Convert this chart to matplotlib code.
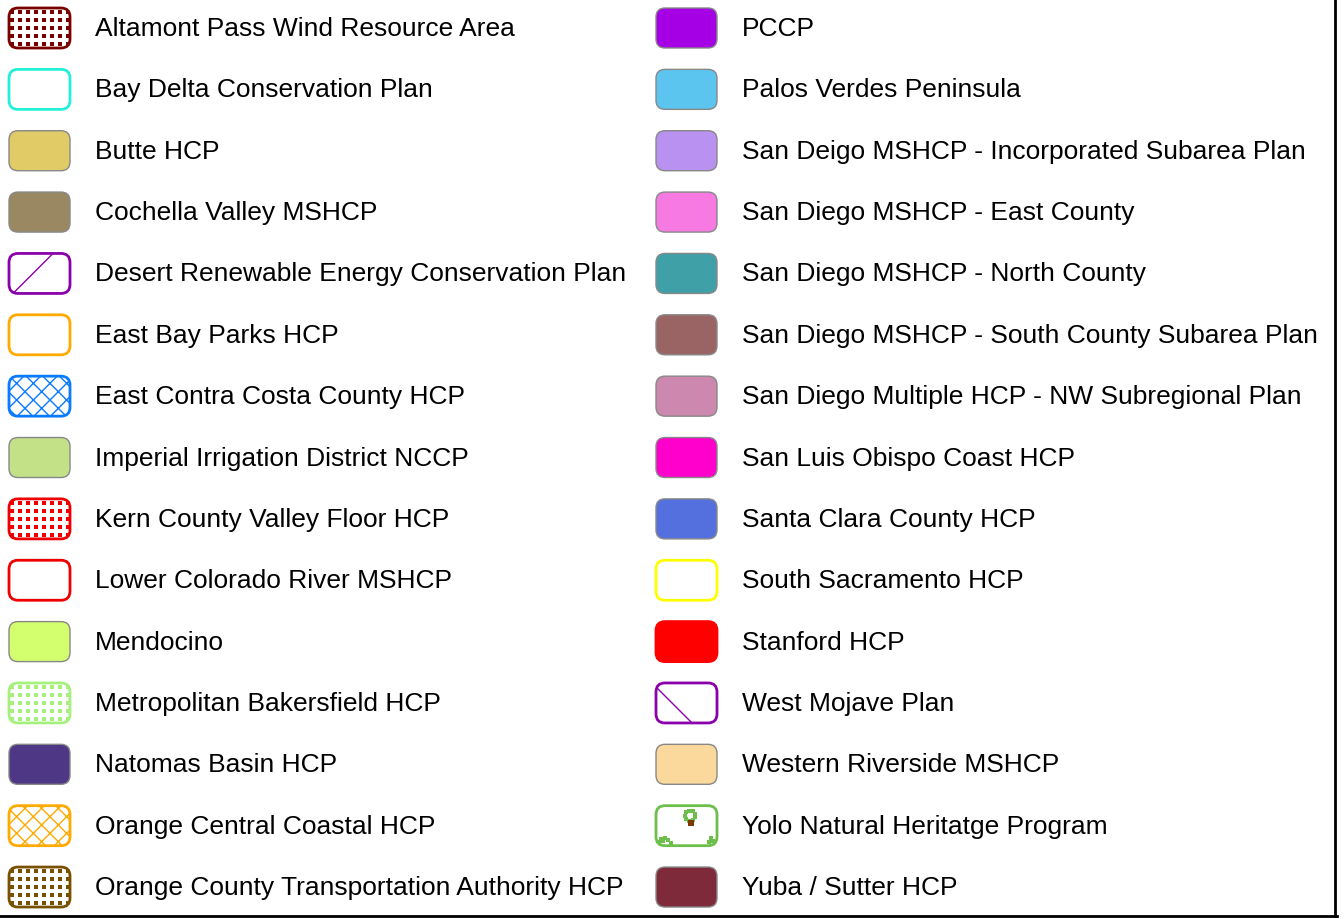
import numpy as np
import matplotlib.pyplot as plt
from matplotlib.patches import FancyBboxPatch
from matplotlib.lines import Line2D

plt.rcParams['font.family'] = ['Liberation Sans', 'DejaVu Sans']
plt.rcParams['hatch.linewidth'] = 1.0

# legend entries, left column then right column
left_labels = [
    'Altamont Pass Wind Resource Area', 'Bay Delta Conservation Plan', 'Butte HCP',
    'Cochella Valley MSHCP', 'Desert Renewable Energy Conservation Plan',
    'East Bay Parks HCP', 'East Contra Costa County HCP', 'Imperial Irrigation District NCCP',
    'Kern County Valley Floor HCP', 'Lower Colorado River MSHCP', 'Mendocino',
    'Metropolitan Bakersfield HCP', 'Natomas Basin HCP', 'Orange Central Coastal HCP',
    'Orange County Transportation Authority HCP',
]
left_face = ['white', 'white', '#e0cb67', '#9a8862', 'white', 'white', 'white', '#c3e288',
             'white', 'white', '#d3ff6e', 'white', '#4e3784', 'white', 'white']
left_edge = ['#7a0000', '#22f0d8', '#888888', '#888888', '#8a00aa', '#ffaa00', '#0a7aff',
             '#888888', '#ee0000', '#ee0000', '#888888', '#a6f07d', '#888888', '#ffaa00', '#7a5000']
# 'dots' = square dot grid, 'xx' = crosshatch, 'ne' / 'nw' = single diagonal
left_fill = ['dots', None, None, None, 'ne', None, 'xx', None, 'dots', None, None, 'dots',
             None, 'xx', 'dots']

right_labels = [
    'PCCP', 'Palos Verdes Peninsula', 'San Deigo MSHCP - Incorporated Subarea Plan',
    'San Diego MSHCP - East County', 'San Diego MSHCP - North County',
    'San Diego MSHCP - South County Subarea Plan', 'San Diego Multiple HCP - NW Subregional Plan',
    'San Luis Obispo Coast HCP', 'Santa Clara County HCP', 'South Sacramento HCP',
    'Stanford HCP', 'West Mojave Plan', 'Western Riverside MSHCP',
    'Yolo Natural Heritatge Program', 'Yuba / Sutter HCP',
]
right_face = ['#a500e5', '#5bc4ef', '#b991f0', '#f67ae2', '#40a0a8', '#9a6465', '#cc88ae',
              '#ff00cc', '#5470de', 'white', '#ff0000', 'white', '#fbd89b', 'white', '#7e2a3a']
right_edge = ['#888888'] * 15
right_edge[9] = '#ffff00'
right_edge[10] = '#ff0000'
right_edge[11] = '#8a00aa'
right_edge[13] = '#6cbf4a'
right_fill = [None] * 15
right_fill[11] = 'nw'
right_fill[13] = 'yolo'

fig = plt.figure(figsize=(13.44, 9.19), dpi=100)
ax = fig.add_axes([0, 0, 1, 1])
ax.set_xlim(0, 1344)
ax.set_ylim(919, 0)
ax.axis('off')

y0, dy = 28, 61.36
sw_w, sw_h = 61, 40


def swatch(x, y, face, edge, fill, lw):
    top = y - sw_h / 2
    p = FancyBboxPatch((x, top), sw_w, sw_h,
                       boxstyle='round,pad=0,rounding_size=9',
                       facecolor=face, edgecolor=edge,
                       hatch='xx' if fill == 'xx' else None, linewidth=lw, zorder=2)
    ax.add_patch(p)
    if fill == 'dots':
        gx, gy = np.meshgrid(np.arange(x + 3, x + sw_w, 8), np.arange(top + 4, top + sw_h, 8))
        d = ax.scatter(gx.ravel(), gy.ravel(), marker='s', s=6, color=edge, lw=0, zorder=3)
        d.set_clip_path(p)
    elif fill == 'ne':
        ax.plot([x + 5, x + 43], [top + sw_h - 1, top + 1], color=edge, lw=1, zorder=3)
    elif fill == 'nw':
        ax.plot([x + 2, x + 36], [top + 6, top + sw_h], color=edge, lw=1, zorder=3)
    elif fill == 'yolo':
        ang = np.linspace(0.3, 2 * np.pi - 0.3, 9)
        ax.scatter(x + 34 + 5 * np.cos(ang), top + 10 + 5 * np.sin(ang), marker='s', s=5,
                   color=edge, lw=0, zorder=3)
        ax.scatter([x + 35], [top + 17], marker='s', s=14, color='#7a3a00', lw=0, zorder=3)
        ax.scatter([x + 3, x + 5, x + 7, x + 9, x + 12, x + 15],
                   [top + 36, top + 33, top + 35, top + 32, top + 34, top + 37],
                   marker='s', s=5, color=edge, lw=0, zorder=3)
        ax.scatter([x + 53, x + 55, x + 57], [top + 36, top + 32, top + 35],
                   marker='s', s=5, color=edge, lw=0, zorder=3)
    return p


for i, lab in enumerate(left_labels):
    y = y0 + i * dy
    lw = 1.0 if left_edge[i] == '#888888' else 2.0
    swatch(9, y, left_face[i], left_edge[i], left_fill[i], lw)
    ax.text(95, y + 1, lab, fontsize=19, va='center', ha='left', color='black')

for i, lab in enumerate(right_labels):
    y = y0 + i * dy
    lw = 1.0 if right_edge[i] == '#888888' else 2.0
    swatch(656, y, right_face[i], right_edge[i], right_fill[i], lw)
    ax.text(742, y + 1, lab, fontsize=19, va='center', ha='left', color='black')

# frame on right and bottom edges
fig.add_artist(Line2D([1335 / 1344, 1335 / 1344], [3 / 919, 1], transform=fig.transFigure,
                      color='black', lw=2))
fig.add_artist(Line2D([0, 1337 / 1344], [3 / 919, 3 / 919], transform=fig.transFigure,
                      color='black', lw=2))

fig.savefig('out.png', dpi=100)
